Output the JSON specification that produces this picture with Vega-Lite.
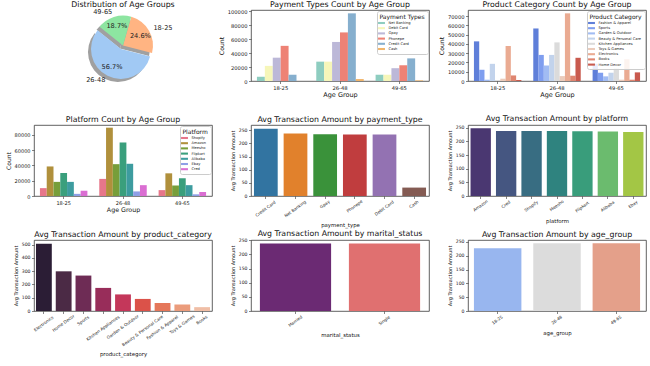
{
  "$schema": "https://vega.github.io/schema/vega-lite/v6.json",
  "background": "white",
  "padding": {"left": 4, "top": 0, "right": 2, "bottom": 2},
  "datasets": {
    "pie": [
      {"age_group": "18-25", "share": 0.246},
      {"age_group": "26-48", "share": 0.567},
      {"age_group": "49-65", "share": 0.187}
    ],
    "paytypes": [
      {"age_group": "18-25", "payment_type": "Net Banking", "count": 6100},
      {"age_group": "18-25", "payment_type": "Debit Card", "count": 21700},
      {"age_group": "18-25", "payment_type": "Gpay", "count": 33500},
      {"age_group": "18-25", "payment_type": "Phonepe", "count": 50500},
      {"age_group": "18-25", "payment_type": "Credit Card", "count": 9000},
      {"age_group": "18-25", "payment_type": "Cash", "count": 0},
      {"age_group": "26-48", "payment_type": "Net Banking", "count": 27800},
      {"age_group": "26-48", "payment_type": "Debit Card", "count": 27800},
      {"age_group": "26-48", "payment_type": "Gpay", "count": 56100},
      {"age_group": "26-48", "payment_type": "Phonepe", "count": 69800},
      {"age_group": "26-48", "payment_type": "Credit Card", "count": 97200},
      {"age_group": "26-48", "payment_type": "Cash", "count": 2800},
      {"age_group": "49-65", "payment_type": "Net Banking", "count": 9000},
      {"age_group": "49-65", "payment_type": "Debit Card", "count": 9000},
      {"age_group": "49-65", "payment_type": "Gpay", "count": 18400},
      {"age_group": "49-65", "payment_type": "Phonepe", "count": 22600},
      {"age_group": "49-65", "payment_type": "Credit Card", "count": 32500},
      {"age_group": "49-65", "payment_type": "Cash", "count": 900}
    ],
    "prodcat": [
      {"age_group": "18-25", "product_category": "Fashion & Apparel", "count": 42700},
      {"age_group": "18-25", "product_category": "Sports", "count": 12100},
      {"age_group": "18-25", "product_category": "Garden & Outdoor", "count": 1400},
      {"age_group": "18-25", "product_category": "Beauty & Personal Care", "count": 18500},
      {"age_group": "18-25", "product_category": "Kitchen Appliances", "count": 700},
      {"age_group": "18-25", "product_category": "Toys & Games", "count": 2500},
      {"age_group": "18-25", "product_category": "Electronics", "count": 37700},
      {"age_group": "18-25", "product_category": "Books", "count": 6000},
      {"age_group": "18-25", "product_category": "Home Decor", "count": 1100},
      {"age_group": "26-48", "product_category": "Fashion & Apparel", "count": 56600},
      {"age_group": "26-48", "product_category": "Sports", "count": 28100},
      {"age_group": "26-48", "product_category": "Garden & Outdoor", "count": 16700},
      {"age_group": "26-48", "product_category": "Beauty & Personal Care", "count": 28100},
      {"age_group": "26-48", "product_category": "Kitchen Appliances", "count": 41600},
      {"age_group": "26-48", "product_category": "Toys & Games", "count": 5300},
      {"age_group": "26-48", "product_category": "Electronics", "count": 72900},
      {"age_group": "26-48", "product_category": "Books", "count": 5700},
      {"age_group": "26-48", "product_category": "Home Decor", "count": 25000},
      {"age_group": "49-65", "product_category": "Fashion & Apparel", "count": 18500},
      {"age_group": "49-65", "product_category": "Sports", "count": 8900},
      {"age_group": "49-65", "product_category": "Garden & Outdoor", "count": 5000},
      {"age_group": "49-65", "product_category": "Beauty & Personal Care", "count": 8900},
      {"age_group": "49-65", "product_category": "Kitchen Appliances", "count": 13900},
      {"age_group": "49-65", "product_category": "Toys & Games", "count": 1400},
      {"age_group": "49-65", "product_category": "Electronics", "count": 23500},
      {"age_group": "49-65", "product_category": "Books", "count": 1400},
      {"age_group": "49-65", "product_category": "Home Decor", "count": 9300}
    ],
    "platform": [
      {"age_group": "18-25", "platform": "Shopify", "count": 10300},
      {"age_group": "18-25", "platform": "Amazon", "count": 38700},
      {"age_group": "18-25", "platform": "Meesho", "count": 18500},
      {"age_group": "18-25", "platform": "Flipkart", "count": 30100},
      {"age_group": "18-25", "platform": "Alibaba", "count": 18500},
      {"age_group": "18-25", "platform": "Ebay", "count": 2800},
      {"age_group": "18-25", "platform": "Cred", "count": 6900},
      {"age_group": "26-48", "platform": "Shopify", "count": 22400},
      {"age_group": "26-48", "platform": "Amazon", "count": 89500},
      {"age_group": "26-48", "platform": "Meesho", "count": 41700},
      {"age_group": "26-48", "platform": "Flipkart", "count": 70100},
      {"age_group": "26-48", "platform": "Alibaba", "count": 42200},
      {"age_group": "26-48", "platform": "Ebay", "count": 6000},
      {"age_group": "26-48", "platform": "Cred", "count": 14200},
      {"age_group": "49-65", "platform": "Shopify", "count": 7700},
      {"age_group": "49-65", "platform": "Amazon", "count": 29700},
      {"age_group": "49-65", "platform": "Meesho", "count": 13800},
      {"age_group": "49-65", "platform": "Flipkart", "count": 23200},
      {"age_group": "49-65", "platform": "Alibaba", "count": 14200},
      {"age_group": "49-65", "platform": "Ebay", "count": 2200},
      {"age_group": "49-65", "platform": "Cred", "count": 5200}
    ],
    "avg_payment": [
      {"payment_type": "Credit Card", "avg": 256},
      {"payment_type": "Net Banking", "avg": 238},
      {"payment_type": "Gpay", "avg": 235},
      {"payment_type": "Phonepe", "avg": 234},
      {"payment_type": "Debit Card", "avg": 234},
      {"payment_type": "Cash", "avg": 32}
    ],
    "avg_platform": [
      {"platform": "Amazon", "avg": 248},
      {"platform": "Cred", "avg": 238},
      {"platform": "Shopify", "avg": 238},
      {"platform": "Meesho", "avg": 238},
      {"platform": "Flipkart", "avg": 237},
      {"platform": "Alibaba", "avg": 236},
      {"platform": "Ebay", "avg": 234}
    ],
    "avg_product": [
      {"product_category": "Electronics", "avg": 507},
      {"product_category": "Home Decor", "avg": 299},
      {"product_category": "Sports", "avg": 267},
      {"product_category": "Kitchen Appliances", "avg": 174},
      {"product_category": "Garden & Outdoor", "avg": 125},
      {"product_category": "Beauty & Personal Care", "avg": 91},
      {"product_category": "Fashion & Apparel", "avg": 61},
      {"product_category": "Toys & Games", "avg": 49},
      {"product_category": "Books", "avg": 29}
    ],
    "avg_marital": [
      {"marital_status": "Married", "avg": 239},
      {"marital_status": "Single", "avg": 239}
    ],
    "avg_age": [
      {"age_group": "18-25", "avg": 227},
      {"age_group": "26-48", "avg": 245},
      {"age_group": "49-65", "avg": 245}
    ]
  },
  "columns": 3,
  "spacing": {"row": 44, "column": 39},
  "bounds": "flush",
  "align": "all",
  "resolve": {
    "scale": {"color": "independent", "xOffset": "independent", "x": "independent", "y": "independent", "theta": "independent"},
    "legend": {"color": "independent"}
  },
  "concat": [
    {
      "title": {"text": "Distribution of Age Groups", "offset": 0},
      "width": 178, "height": 71,
      "view": {"stroke": null},
      "data": {"name": "pie"},
      "encoding": {
        "theta": {"field": "share", "type": "quantitative", "stack": true, "scale": {"range": [0.28, 6.56]}},
        "order": {"field": "age_group", "type": "ordinal"}
      },
      "layer": [
        {"mark": {"type": "arc", "outerRadius": 30, "color": "#8f8f8f", "opacity": 0.85,
                  "xOffset": {"expr": "datum.age_group == '26-48' ? -5 : -3"},
                  "yOffset": {"expr": "datum.age_group == '26-48' ? 6.5 : 3"}}},
        {"mark": {"type": "arc", "outerRadius": 30,
                  "xOffset": {"expr": "datum.age_group == '26-48' ? -2 : 0"},
                  "yOffset": {"expr": "datum.age_group == '26-48' ? 3.5 : 0"}},
         "encoding": {"color": {"field": "age_group", "type": "nominal",
                                "scale": {"domain": ["18-25", "26-48", "49-65"], "range": ["#ffb482", "#a1c9f4", "#8de5a1"]},
                                "legend": null}}},
        {"mark": {"type": "text", "radius": 35, "fontSize": 6.6, "color": "#222",
                  "align": {"expr": "datum.age_group == '18-25' ? 'left' : 'right'"},
                  "xOffset": {"expr": "datum.age_group == '26-48' ? -2 : 0"},
                  "yOffset": {"expr": "datum.age_group == '26-48' ? 3.5 : 0"}},
         "encoding": {"text": {"field": "age_group", "type": "nominal"}}},
        {"mark": {"type": "text", "radius": 20, "fontSize": 6.6, "color": "#222",
                  "xOffset": {"expr": "datum.age_group == '26-48' ? -2 : 0"},
                  "yOffset": {"expr": "datum.age_group == '26-48' ? 3.5 : 0"}},
         "encoding": {"text": {"field": "share", "type": "quantitative", "format": ".1%"}}}
      ]
    },
    {
      "title": {"text": "Payment Types Count by Age Group", "offset": 0.3},
      "width": 178, "height": 71,
      "data": {"name": "paytypes"},
      "mark": {"type": "bar"},
      "encoding": {
        "x": {"field": "age_group", "type": "nominal", "sort": ["18-25", "26-48", "49-65"],
              "scale": {"paddingInner": 0.2, "paddingOuter": 0.1},
              "axis": {"title": "Age Group", "labelAngle": 0, "labelFontSize": 5.2, "titleFontSize": 6.5, "titlePadding": 1}},
        "xOffset": {"field": "payment_type", "type": "nominal",
                    "sort": ["Net Banking", "Debit Card", "Gpay", "Phonepe", "Credit Card", "Cash"],
                    "scale": {"paddingInner": 0, "paddingOuter": 0}},
        "y": {"field": "count", "type": "quantitative", "scale": {"domain": [0, 102000], "nice": false},
              "axis": {"title": "Count", "values": [0, 20000, 40000, 60000, 80000, 100000], "format": "d", "labelFontSize": 5.2, "titleFontSize": 6.2}},
        "color": {"field": "payment_type", "type": "nominal",
                  "scale": {"domain": ["Net Banking", "Debit Card", "Gpay", "Phonepe", "Credit Card", "Cash"],
                            "range": ["#8ecdc0", "#f6f6b9", "#bcb8d8", "#ee8275", "#86afce", "#f1b56b"]},
                  "legend": {"title": "Payment Types", "orient": "top-right"}}
      }
    },
    {
      "title": {"text": "Product Category Count by Age Group", "offset": 1.5},
      "width": 178, "height": 71,
      "data": {"name": "prodcat"},
      "mark": {"type": "bar"},
      "encoding": {
        "x": {"field": "age_group", "type": "nominal", "sort": ["18-25", "26-48", "49-65"],
              "scale": {"paddingInner": 0.2, "paddingOuter": 0.1},
              "axis": {"title": "Age Group", "labelAngle": 0, "labelFontSize": 5.2, "titleFontSize": 6.5, "titlePadding": 1}},
        "xOffset": {"field": "product_category", "type": "nominal",
                    "sort": ["Fashion & Apparel", "Sports", "Garden & Outdoor", "Beauty & Personal Care", "Kitchen Appliances", "Toys & Games", "Electronics", "Books", "Home Decor"],
                    "scale": {"paddingInner": 0, "paddingOuter": 0}},
        "y": {"field": "count", "type": "quantitative", "scale": {"domain": [0, 76500], "nice": false},
              "axis": {"title": "Count", "values": [0, 10000, 20000, 30000, 40000, 50000, 60000, 70000], "format": "d", "labelFontSize": 5.2, "titleFontSize": 6.2}},
        "color": {"field": "product_category", "type": "nominal",
                  "scale": {"domain": ["Fashion & Apparel", "Sports", "Garden & Outdoor", "Beauty & Personal Care", "Kitchen Appliances", "Toys & Games", "Electronics", "Books", "Home Decor"],
                            "range": ["#5f7fd9", "#7f9eef", "#a1bcf3", "#c2d3ec", "#dbdbdb", "#ebcbbb", "#eaab92", "#df8570", "#c95a4e"]},
                  "legend": {"title": "Product Category", "orient": "top-right"}}
      }
    },
    {
      "title": {"text": "Platform Count by Age Group", "offset": 1.5},
      "width": 178, "height": 71,
      "data": {"name": "platform"},
      "mark": {"type": "bar"},
      "encoding": {
        "x": {"field": "age_group", "type": "nominal", "sort": ["18-25", "26-48", "49-65"],
              "scale": {"paddingInner": 0.2, "paddingOuter": 0.1},
              "axis": {"title": "Age Group", "labelAngle": 0, "labelFontSize": 5, "titleFontSize": 6.3, "titlePadding": 1}},
        "xOffset": {"field": "platform", "type": "nominal",
                    "sort": ["Shopify", "Amazon", "Meesho", "Flipkart", "Alibaba", "Ebay", "Cred"],
                    "scale": {"paddingInner": 0, "paddingOuter": 0}},
        "y": {"field": "count", "type": "quantitative", "scale": {"domain": [0, 93000], "nice": false},
              "axis": {"title": "Count", "values": [0, 20000, 40000, 60000, 80000], "format": "d", "labelFontSize": 5, "titleFontSize": 6}},
        "color": {"field": "platform", "type": "nominal",
                  "scale": {"domain": ["Shopify", "Amazon", "Meesho", "Flipkart", "Alibaba", "Ebay", "Cred"],
                            "range": ["#e7768a", "#b0903c", "#779e3a", "#3a9f7c", "#3d9c9f", "#8e9fe6", "#da6ed2"]},
                  "legend": {"title": "Platform", "orient": "top-right"}}
      }
    },
    {
      "title": {"text": "Avg Transaction Amount by payment_type", "offset": 1.5},
      "width": 178, "height": 71,
      "data": {"name": "avg_payment"},
      "mark": {"type": "bar"},
      "encoding": {
        "x": {"field": "payment_type", "type": "nominal", "sort": null,
              "scale": {"paddingInner": 0.2, "paddingOuter": 0.1},
              "axis": {"title": "payment_type", "labelAngle": -36, "labelAlign": "center", "labelBaseline": "middle", "labelFontSize": 4.2, "titleFontSize": 5.4, "titlePadding": 5,
                       "labelPadding": {"expr": "3.2 + length(datum.label)*0.63"}}},
        "y": {"field": "avg", "type": "quantitative", "scale": {"domain": [0, 270], "nice": false},
              "axis": {"title": "Avg Transaction Amount", "values": [0, 50, 100, 150, 200, 250], "labelFontSize": 4.6, "titleFontSize": 5}},
        "color": {"field": "payment_type", "type": "nominal", "sort": null,
                  "scale": {"domain": ["Credit Card", "Net Banking", "Gpay", "Phonepe", "Debit Card", "Cash"],
                            "range": ["#3274a1", "#e1812c", "#3a923a", "#c03d3e", "#9372b2", "#845b53"]},
                  "legend": null}
      }
    },
    {
      "title": {"text": "Avg Transaction Amount by platform", "offset": 1.5},
      "width": 178, "height": 71,
      "data": {"name": "avg_platform"},
      "mark": {"type": "bar"},
      "encoding": {
        "x": {"field": "platform", "type": "nominal", "sort": null,
              "scale": {"paddingInner": 0.2, "paddingOuter": 0.1},
              "axis": {"title": "platform", "labelAngle": -36, "labelAlign": "center", "labelBaseline": "middle", "labelFontSize": 4.2, "titleFontSize": 5.4, "titlePadding": 5,
                       "labelPadding": {"expr": "3.2 + length(datum.label)*0.63"}}},
        "y": {"field": "avg", "type": "quantitative", "scale": {"domain": [0, 260], "nice": false},
              "axis": {"title": "Avg Transaction Amount", "values": [0, 50, 100, 150, 200, 250], "labelFontSize": 4.6, "titleFontSize": 5}},
        "color": {"field": "platform", "type": "nominal", "sort": null,
                  "scale": {"domain": ["Amazon", "Cred", "Shopify", "Meesho", "Flipkart", "Alibaba", "Ebay"],
                            "range": ["#4a3771", "#455681", "#386d82", "#2f837f", "#399d7b", "#6bbb6e", "#a3c645"]},
                  "legend": null}
      }
    },
    {
      "title": {"text": "Avg Transaction Amount by product_category", "offset": 1.5},
      "width": 178, "height": 71,
      "data": {"name": "avg_product"},
      "mark": {"type": "bar"},
      "encoding": {
        "x": {"field": "product_category", "type": "nominal", "sort": null,
              "scale": {"paddingInner": 0.2, "paddingOuter": 0.1},
              "axis": {"title": "product_category", "labelAngle": -36, "labelAlign": "center", "labelBaseline": "middle", "labelFontSize": 4.2, "titleFontSize": 5.4, "titlePadding": 5,
                       "labelPadding": {"expr": "3.2 + length(datum.label)*0.63"}}},
        "y": {"field": "avg", "type": "quantitative", "scale": {"domain": [0, 535], "nice": false},
              "axis": {"title": "Avg Transaction Amount", "values": [0, 100, 200, 300, 400, 500], "labelFontSize": 4.6, "titleFontSize": 5}},
        "color": {"field": "product_category", "type": "nominal", "sort": null,
                  "scale": {"domain": ["Electronics", "Home Decor", "Sports", "Kitchen Appliances", "Garden & Outdoor", "Beauty & Personal Care", "Fashion & Apparel", "Toys & Games", "Books"],
                            "range": ["#2b1d35", "#4b2a45", "#6e2c55", "#982d5a", "#c4375a", "#db5249", "#e5775a", "#eb9c7c", "#f0bea6"]},
                  "legend": null}
      }
    },
    {
      "title": {"text": "Avg Transaction Amount by marital_status", "offset": -0.7},
      "width": 178, "height": 71,
      "data": {"name": "avg_marital"},
      "mark": {"type": "bar"},
      "encoding": {
        "x": {"field": "marital_status", "type": "nominal", "sort": null,
              "scale": {"paddingInner": 0.2, "paddingOuter": 0.1},
              "axis": {"title": "marital_status", "labelAngle": -36, "labelAlign": "center", "labelBaseline": "middle", "labelFontSize": 4.2, "titleFontSize": 5.4, "titlePadding": 5,
                       "labelPadding": {"expr": "3.2 + length(datum.label)*0.63"}}},
        "y": {"field": "avg", "type": "quantitative", "scale": {"domain": [0, 251], "nice": false},
              "axis": {"title": "Avg Transaction Amount", "values": [0, 50, 100, 150, 200, 250], "labelFontSize": 4.6, "titleFontSize": 5}},
        "color": {"field": "marital_status", "type": "nominal", "sort": null,
                  "scale": {"domain": ["Married", "Single"], "range": ["#6b2a73", "#e07070"]},
                  "legend": null}
      }
    },
    {
      "title": {"text": "Avg Transaction Amount by age_group", "offset": 0.5},
      "width": 178, "height": 71,
      "data": {"name": "avg_age"},
      "mark": {"type": "bar"},
      "encoding": {
        "x": {"field": "age_group", "type": "nominal", "sort": null,
              "scale": {"paddingInner": 0.2, "paddingOuter": 0.1},
              "axis": {"title": "age_group", "labelAngle": -36, "labelAlign": "center", "labelBaseline": "middle", "labelFontSize": 4.2, "titleFontSize": 5.4, "titlePadding": 5,
                       "labelPadding": {"expr": "3.2 + length(datum.label)*0.63"}}},
        "y": {"field": "avg", "type": "quantitative", "scale": {"domain": [0, 257], "nice": false},
              "axis": {"title": "Avg Transaction Amount", "values": [0, 50, 100, 150, 200, 250], "labelFontSize": 4.6, "titleFontSize": 5}},
        "color": {"field": "age_group", "type": "nominal", "sort": null,
                  "scale": {"domain": ["18-25", "26-48", "49-65"], "range": ["#98b6ef", "#dcdcdc", "#e4a08a"]},
                  "legend": null}
      }
    }
  ],
  "config": {
    "font": "DejaVu Sans",
    "view": {"stroke": "#3a3a3a", "strokeWidth": 0.8},
    "title": {"fontSize": 7.8, "fontWeight": "normal", "offset": 2, "color": "#111", "font": "DejaVu Sans"},
    "axis": {"grid": false, "domain": false, "tickSize": 2.5, "tickColor": "#333", "tickWidth": 0.6,
             "labelColor": "#222", "titleColor": "#111", "titleFontWeight": "normal", "labelPadding": 1.5, "titlePadding": 3,
             "labelFont": "DejaVu Sans", "titleFont": "DejaVu Sans"},
    "legend": {"titleFontSize": 6, "titleFontWeight": "normal", "titleColor": "#111", "labelFontSize": 3.6, "labelColor": "#222",
               "symbolType": "M-2,-0.6H2V0.6H-2Z", "symbolSize": 12, "symbolStrokeWidth": 0, "labelOffset": 5,
               "rowPadding": 1.2, "padding": 2.5, "strokeColor": "#cccccc", "fillColor": "rgba(255,255,255,0.85)",
               "offset": 1, "titlePadding": 1.5, "cornerRadius": 2, "labelFont": "DejaVu Sans", "titleFont": "DejaVu Sans"},
    "bar": {"stroke": null}
  }
}
